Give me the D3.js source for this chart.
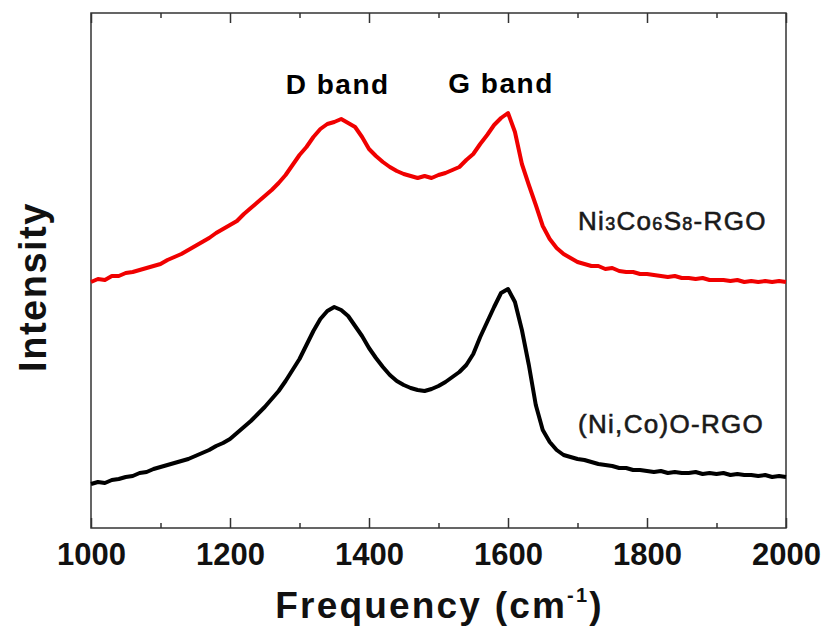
<!DOCTYPE html>
<html lang='en'>
<head>
	<meta charset='UTF-8'/>
	<title>D3: Raman spectra</title>
	<script src='https://cdnjs.cloudflare.com/ajax/libs/d3/7.8.5/d3.min.js'></script>
	<style>
		body {margin: 0; background: #fff;}
		text {font-family: 'Liberation Sans', Arial, sans-serif;}
	</style>
</head>
<body>
	<div class='graph'></div>
	<script>
		// Raman shift (cm-1)
		const WAVENUMBER = [
			1000, 1010, 1020, 1030, 1040, 1050, 1060, 1070, 1080, 1090,
			1100, 1110, 1120, 1130, 1140, 1150, 1160, 1170, 1180, 1190,
			1200, 1210, 1220, 1230, 1240, 1250, 1260, 1270, 1280, 1290,
			1300, 1310, 1320, 1330, 1340, 1350, 1360, 1370, 1380, 1390,
			1400, 1410, 1420, 1430, 1440, 1450, 1460, 1470, 1480, 1490,
			1500, 1510, 1520, 1530, 1540, 1550, 1560, 1570, 1580, 1590,
			1600, 1610, 1620, 1630, 1640, 1650, 1660, 1670, 1680, 1690,
			1700, 1710, 1720, 1730, 1740, 1750, 1760, 1770, 1780, 1790,
			1800, 1810, 1820, 1830, 1840, 1850, 1860, 1870, 1880, 1890,
			1900, 1910, 1920, 1930, 1940, 1950, 1960, 1970, 1980, 1990,
			2000
		];
		// Ni3Co6S8-RGO (a.u., offset)
		const SULFIDE = [
			246, 249, 248, 252, 252, 255, 256, 258, 260, 262,
			264, 268, 271, 274, 278, 282, 286, 290, 295, 299,
			303, 307, 314, 320, 326, 332, 338, 345, 353, 363,
			373, 381, 391, 399, 404, 406, 409, 405, 401, 391,
			379, 372, 366, 361, 357, 354, 352, 350, 352, 350,
			353, 355, 358, 361, 368, 374, 384, 393, 403, 410,
			415, 396, 364, 343, 323, 302, 289, 280, 274, 270,
			266, 264, 262, 262, 259, 260, 257, 256, 256, 254,
			254, 253, 252, 251, 252, 250, 250, 249, 250, 248,
			248, 248, 247, 248, 246, 247, 246, 247, 246, 247,
			246
		];
		// (Ni,Co)O-RGO (a.u.)
		const OXIDE = [
			44, 46, 45, 48, 49, 51, 52, 55, 56, 59,
			61, 63, 65, 67, 69, 72, 75, 78, 82, 85,
			89, 95, 101, 107, 114, 121, 129, 137, 147, 158,
			169, 183, 197, 209, 217, 221, 218, 212, 202, 192,
			180, 170, 161, 153, 147, 143, 140, 138, 137, 139,
			142, 146, 151, 156, 163, 174, 191, 206, 221, 235,
			239, 226, 198, 163, 123, 98, 86, 78, 73, 71,
			69, 68, 66, 64, 63, 62, 60, 60, 58, 58,
			57, 56, 57, 55, 56, 55, 55, 56, 54, 55,
			54, 55, 53, 54, 53, 53, 52, 53, 51, 52,
			51
		];
		const X_TICKS = [1000, 1200, 1400, 1600, 1800, 2000];
		const X_MINOR = [1100, 1300, 1500, 1700, 1900];

		var width = 829;
		var height = 632;
		margin = ({top: 13, right: 43, bottom: 104, left: 91});

		var svg = d3.select('.graph')
			.append('svg')
			.attr('width', width)
			.attr('height', height);

		const X_SCALE = d3.scaleLinear()
			.domain([1000, 2000])
			.range([margin.left, width - margin.right]);
		const Y_SCALE = d3.scaleLinear()
			.domain([0, 515])
			.range([height - margin.bottom, margin.top]);

		// frame
		svg.append('rect')
			.attr('x', margin.left)
			.attr('y', margin.top)
			.attr('width', width - margin.left - margin.right)
			.attr('height', height - margin.top - margin.bottom)
			.style('fill', 'none')
			.style('stroke', '#333')
			.style('stroke-width', 1.5);

		// ticks, inward, bottom and top
		function ticks(g, vals, len, labels) {
			g.call(d3.axisBottom(X_SCALE).tickValues(vals).tickSize(len)
				.tickFormat(labels ? d3.format('d') : ''));
			g.select('.domain').remove();
			g.selectAll('line').style('stroke', '#333').style('stroke-width', 1.5);
		}
		let xb = svg.append('g').attr('transform', 'translate(0,' + (height - margin.bottom) + ')');
		xb.call(ticks, X_TICKS, -10, true);
		xb.call(g => g.append('g').call(ticks, X_MINOR, -5, false));
		xb.selectAll('text')
			.attr('y', 37)
			.attr('dy', 0)
			.style('font-size', '31px')
			.style('font-weight', 'bold')
			.style('fill', '#111');
		let xt = svg.append('g').attr('transform', 'translate(0,' + margin.top + ')');
		xt.call(ticks, X_TICKS, 10, false);
		xt.call(g => g.append('g').call(ticks, X_MINOR, 5, false));

		// spectra
		const line = d3.line()
			.x((d, i) => X_SCALE(WAVENUMBER[i]))
			.y(d => Y_SCALE(d));
		svg.append('path')
			.datum(SULFIDE)
			.attr('d', line)
			.style('fill', 'none')
			.style('stroke', '#f00000')
			.style('stroke-width', 4)
			.style('stroke-linejoin', 'round');
		svg.append('path')
			.datum(OXIDE)
			.attr('d', line)
			.style('fill', 'none')
			.style('stroke', '#000')
			.style('stroke-width', 4)
			.style('stroke-linejoin', 'round');

		// band labels
		svg.append('text')
			.attr('x', X_SCALE(1355))
			.attr('y', 94)
			.attr('text-anchor', 'middle')
			.style('font-size', '28px')
			.style('font-weight', 'bold')
			.style('letter-spacing', '1.5px')
			.text('D band');
		svg.append('text')
			.attr('x', X_SCALE(1590))
			.attr('y', 93)
			.attr('text-anchor', 'middle')
			.style('font-size', '28px')
			.style('font-weight', 'bold')
			.style('letter-spacing', '1.5px')
			.text('G band');

		// sample labels
		let s1 = svg.append('text')
			.attr('x', 578)
			.attr('y', 230)
			.style('font-size', '26px')
			.style('fill', '#1a1a1a')
			.style('stroke', '#1a1a1a')
			.style('stroke-width', 0.6)
			.style('letter-spacing', '1.3px');
		[['Ni', 26], ['3', 18], ['Co', 26], ['6', 18], ['S', 26], ['8', 18], ['-RGO', 26]]
			.forEach(p => s1.append('tspan').style('font-size', p[1] + 'px').text(p[0]));
		svg.append('text')
			.attr('x', 578)
			.attr('y', 433)
			.style('font-size', '26px')
			.style('fill', '#1a1a1a')
			.style('stroke', '#1a1a1a')
			.style('stroke-width', 0.6)
			.style('letter-spacing', '1.3px')
			.text('(Ni,Co)O-RGO');

		// axis titles
		let xl = svg.append('text')
			.attr('x', (margin.left + width - margin.right) / 2 + 1)
			.attr('y', 618)
			.attr('text-anchor', 'middle')
			.style('font-size', '37px')
			.style('font-weight', 'bold')
			.style('letter-spacing', '2.2px')
			.style('fill', '#111');
		xl.append('tspan').text('Frequency (cm');
		xl.append('tspan').attr('dy', -16).style('font-size', '20px').text('-1');
		xl.append('tspan').attr('dy', 16).text(')');
		svg.append('text')
			.attr('transform', 'rotate(-90)')
			.attr('x', -287)
			.attr('y', 46)
			.attr('text-anchor', 'middle')
			.style('font-size', '38px')
			.style('font-weight', 'bold')
			.style('letter-spacing', '1.5px')
			.style('fill', '#111')
			.text('Intensity');
	</script>
</body>
</html>
